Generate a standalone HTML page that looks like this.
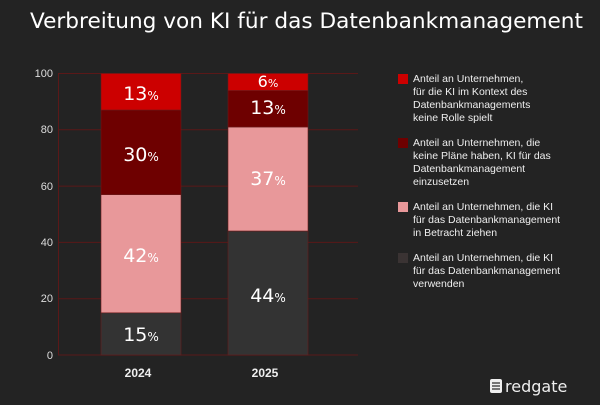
<!DOCTYPE html>
<html><head><meta charset="utf-8"><style>
html,body{margin:0;padding:0;background:#232323;}
body{width:600px;height:400px;overflow:hidden;font-family:"Liberation Sans",sans-serif;}
</style></head><body>
<svg width="600" height="400" xmlns="http://www.w3.org/2000/svg">
<rect width="600" height="400" fill="#232323"/>
<text x="30" y="28" fill="#fff" font-size="21" font-family="DejaVu Sans, sans-serif" textLength="553" lengthAdjust="spacingAndGlyphs">Verbreitung von KI für das Datenbankmanagement</text>
<g stroke="#5a1818" stroke-width="1">
<line x1="58" y1="73.5" x2="358" y2="73.5"/>
<line x1="58" y1="129.8" x2="358" y2="129.8"/>
<line x1="58" y1="186.1" x2="358" y2="186.1"/>
<line x1="58" y1="242.4" x2="358" y2="242.4"/>
<line x1="58" y1="298.7" x2="358" y2="298.7"/>
<line x1="58" y1="355" x2="358" y2="355"/>
<line x1="58.5" y1="73" x2="58.5" y2="355"/>
</g>
<g fill="#ddd" font-size="11" text-anchor="end">
<text x="53" y="77">100</text><text x="53" y="133">80</text><text x="53" y="190">60</text>
<text x="53" y="246">40</text><text x="53" y="302">20</text><text x="53" y="359">0</text>
</g>
<g stroke="#6a1a1a" stroke-width="0.6">
<rect x="101" y="312.8" width="80" height="42.2" fill="#333"/>
<rect x="101" y="194.6" width="80" height="118.2" fill="#e8989a"/>
<rect x="101" y="110" width="80" height="84.6" fill="#6e0000"/>
<rect x="101" y="73.5" width="80" height="36.5" fill="#cc0000"/>
<rect x="228" y="231" width="80" height="124" fill="#333"/>
<rect x="228" y="127" width="80" height="104" fill="#e8989a"/>
<rect x="228" y="90.5" width="80" height="36.5" fill="#6e0000"/>
<rect x="228" y="73.5" width="80" height="17" fill="#cc0000"/>
</g>
<g fill="#fff" font-family="DejaVu Sans, sans-serif" text-anchor="middle">
<text x="141" y="100" font-size="19">13<tspan font-size="12">%</tspan></text>
<text x="141" y="161" font-size="19">30<tspan font-size="12">%</tspan></text>
<text x="141" y="262" font-size="19">42<tspan font-size="12">%</tspan></text>
<text x="141" y="341" font-size="19">15<tspan font-size="12">%</tspan></text>
<text x="268" y="87" font-size="16">6<tspan font-size="11">%</tspan></text>
<text x="268" y="114" font-size="19">13<tspan font-size="12">%</tspan></text>
<text x="268" y="185" font-size="19">37<tspan font-size="12">%</tspan></text>
<text x="268" y="302" font-size="19">44<tspan font-size="12">%</tspan></text>
</g>
<g fill="#eee" font-size="12" font-weight="bold" text-anchor="middle">
<text x="138" y="377">2024</text><text x="265" y="377">2025</text>
</g>
<g font-size="10.5" fill="#eee">
<rect x="398" y="74" width="10" height="10" fill="#cc0000"/>
<text x="413" y="82">Anteil an Unternehmen,</text>
<text x="413" y="95">für die KI im Kontext des</text>
<text x="413" y="108">Datenbankmanagements</text>
<text x="413" y="121">keine Rolle spielt</text>
<rect x="398" y="138" width="10" height="10" fill="#6e0000"/>
<text x="413" y="146">Anteil an Unternehmen, die</text>
<text x="413" y="159">keine Pläne haben, KI für das</text>
<text x="413" y="172">Datenbankmanagement</text>
<text x="413" y="185">einzusetzen</text>
<rect x="398" y="202" width="10" height="10" fill="#e8989a"/>
<text x="413" y="210">Anteil an Unternehmen, die KI</text>
<text x="413" y="223">für das Datenbankmanagement</text>
<text x="413" y="236">in Betracht ziehen</text>
<rect x="398" y="253" width="10" height="10" fill="#3a3333"/>
<text x="413" y="261">Anteil an Unternehmen, die KI</text>
<text x="413" y="274">für das Datenbankmanagement</text>
<text x="413" y="287">verwenden</text>
</g>
<rect x="490" y="379" width="12" height="14" rx="2" fill="#eee"/>
<g stroke="#232323" stroke-width="1.2"><line x1="492" y1="383" x2="500" y2="383"/><line x1="492" y1="386" x2="500" y2="386"/><line x1="492" y1="389" x2="500" y2="389"/></g>
<text x="505" y="392" fill="#eee" font-size="16" font-family="DejaVu Sans, sans-serif">redgate</text>
</svg>
</body></html>
